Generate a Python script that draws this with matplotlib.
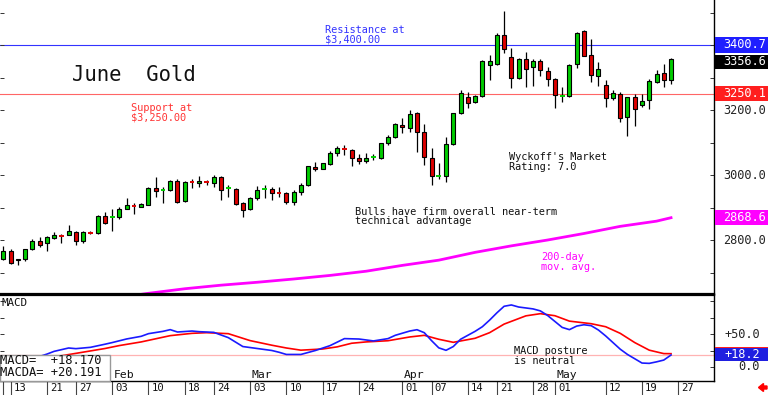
import numpy as np
import matplotlib
matplotlib.use("Agg")
import matplotlib.pyplot as plt
from matplotlib.patches import Rectangle, FancyArrow

# ---------------- data ----------------
opens = [2741, 2767, 2738, 2742, 2771, 2796, 2790, 2806, 2813, 2816,
         2825, 2796, 2825, 2821, 2874, 2869, 2870, 2896, 2908, 2902,
         2909, 2960, 2953, 2954, 2981, 2919, 2979, 2974, 2979, 2975,
         2995, 2958, 2958, 2914, 2894, 2928, 2955, 2956, 2946, 2945,
         2917, 2949, 2968, 3026, 3018, 3034, 3067, 3082, 3077, 3051,
         3044, 3052, 3051, 3097, 3116, 3154, 3144, 3192, 3133, 3051,
         2996, 2997, 3095, 3190, 3241, 3225, 3243, 3338, 3342, 3431,
         3362, 3298, 3356, 3333, 3352, 3320, 3294, 3242, 3243, 3342,
         3443, 3369, 3305, 3277, 3236, 3248, 3178, 3239, 3215, 3231,
         3287, 3313, 3292]
highs = [2782, 2771, 2743, 2773, 2804, 2808, 2812, 2826, 2818, 2845,
         2827, 2827, 2829, 2876, 2885, 2894, 2902, 2930, 2915, 2913,
         2962, 2993, 2962, 2985, 2989, 2981, 2987, 2997, 2985, 3001,
         2997, 2968, 2960, 2918, 2933, 2966, 2968, 2964, 2964, 2949,
         2954, 2976, 3029, 3041, 3038, 3075, 3089, 3092, 3079, 3065,
         3067, 3065, 3099, 3123, 3161, 3174, 3200, 3194, 3157, 3082,
         3036, 3118, 3192, 3262, 3256, 3246, 3354, 3369, 3438, 3505,
         3390, 3359, 3379, 3356, 3356, 3333, 3298, 3272, 3342, 3440,
         3446, 3418, 3349, 3292, 3262, 3256, 3241, 3249, 3248, 3294,
         3323, 3342, 3359]
lows = [2738, 2725, 2724, 2736, 2769, 2778, 2767, 2804, 2792, 2814,
        2784, 2792, 2818, 2818, 2849, 2827, 2866, 2894, 2880, 2901,
        2907, 2931, 2913, 2952, 2915, 2917, 2960, 2964, 2969, 2964,
        2923, 2931, 2908, 2870, 2892, 2923, 2928, 2923, 2932, 2911,
        2908, 2938, 2966, 3011, 3017, 3032, 3058, 3062, 3028, 3034,
        3036, 3046, 3048, 3092, 3114, 3128, 3133, 3072, 3031, 2969,
        2987, 2979, 3092, 3188, 3205, 3222, 3241, 3292, 3338, 3374,
        3267, 3294, 3272, 3274, 3305, 3274, 3205, 3226, 3239, 3328,
        3365, 3287, 3274, 3208, 3231, 3164, 3120, 3151, 3210, 3202,
        3282, 3272, 3280]
closes = [2767, 2728, 2742, 2771, 2796, 2786, 2808, 2814, 2812, 2829,
          2796, 2825, 2823, 2874, 2853, 2871, 2896, 2908, 2906, 2911,
          2960, 2952, 2955, 2982, 2917, 2978, 2977, 2981, 2977, 2995,
          2954, 2959, 2911, 2892, 2929, 2954, 2957, 2946, 2944, 2918,
          2949, 2969, 3027, 3018, 3036, 3069, 3083, 3081, 3051, 3043,
          3051, 3054, 3098, 3118, 3157, 3147, 3188, 3133, 3056, 2997,
          2998, 3095, 3190, 3251, 3222, 3243, 3352, 3352, 3431, 3388,
          3298, 3356, 3326, 3351, 3323, 3295, 3246, 3244, 3338, 3438,
          3366, 3308, 3325, 3236, 3251, 3174, 3239, 3202, 3229, 3289,
          3311, 3292, 3356.6]

# 200-day moving average (trading-day index, value)
ma_idx = [15, 20, 25, 30, 35, 40, 45, 50, 55, 60, 65, 70, 75, 80, 85, 90, 92]
ma_vals = [2620, 2636, 2650, 2661, 2670, 2680, 2691, 2704, 2722, 2738,
           2762, 2782, 2800, 2820, 2842, 2858, 2868.6]

# MACD (blue) and MACD average (red)
macd_idx = [0, 3, 6, 7, 9, 10, 12, 14, 15, 17, 19, 20, 22, 23, 24, 26, 27, 29,
            31, 33, 35, 37, 38, 39, 41, 43, 45, 47, 49, 51, 53, 54, 56, 57, 58,
            59, 60, 61, 62, 63, 65, 66, 67, 68, 69, 70, 71, 73, 74, 75, 77, 78,
            79, 80, 81, 82, 83, 84, 85, 86, 87, 88, 89, 90, 91, 92]
macd_vals = [4, 9, 19.5, 23.7, 28.8, 27.8, 29.8, 34.5, 37, 42.5, 46.5, 50.5,
             54, 56.6, 53, 54.5, 53.5, 52.5, 44.5, 31, 28, 25, 22.3, 19, 19, 25,
             32.3, 43, 42.4, 39.5, 43, 48, 54.5, 56.5, 52, 40, 29, 25.3, 31, 42,
             54, 61, 71, 82, 92, 94, 90.9, 88, 85, 78, 60, 56.6, 62, 64, 62.6,
             56, 47, 37, 27, 19, 12.5, 6, 5.5, 7.8, 10.5, 18.17]
sig_idx = [0, 4, 8, 11, 14, 16, 19, 23, 26, 28, 31, 34, 37, 39, 41, 44, 46, 48,
           50, 53, 56, 58, 60, 62, 65, 67, 69, 72, 74, 76, 78, 81, 83, 85, 87,
           89, 91, 92]
sig_vals = [5, 10, 17, 22.5, 28, 32.5, 38, 47.5, 51, 52, 50.5, 40, 33, 28.8,
            25.5, 27.3, 30.5, 36, 38, 39.8, 45.5, 48, 42, 37.4, 43.5, 52, 65,
            77.5, 80.8, 77.7, 69.5, 65.6, 61, 51, 37, 25.5, 20.3, 20.19]

date_tick_idx = [1, 6, 10, 15, 20, 25, 29, 34, 39, 44, 49, 55, 59, 64, 68, 73,
                 76, 83, 88, 93]
date_tick_lbl = ["13", "21", "27", "03", "10", "18", "24", "03", "10", "17",
                 "24", "01", "07", "14", "21", "28", "01", "12", "19", "27"]
month_idx = [15, 34, 55, 76]
month_lbl = ["Feb", "Mar", "Apr", "May"]

price_axis_labels = [2800, 3000, 3200]
resistance = 3400.7
support = 3250.1
last_close = 3356.6
ma_last = 2868.6
macd_last = 18.170
macda_last = 20.191
macd_axis_labels = [50, 0]

# ---------------- layout ----------------
W, H = 768, 395
MONO = "DejaVu Sans Mono"
plt.rcParams["font.family"] = [MONO, "DejaVu Sans"]

fig = plt.figure(figsize=(W / 100, H / 100), dpi=100)


def fx(px):
    return px / W


def fy(py):
    return 1 - py / H


AX_R = 714
ax = fig.add_axes([0, fy(294), AX_R / W, 294 / H])
axm = fig.add_axes([0, fy(381), AX_R / W, (381 - 295) / H])

XL = (-0.455, 97.92)
P_PER_PX = 3.077
M_PER_PX = 1 / 0.66
ax.set_xlim(*XL)
ax.set_ylim(3538.5 - 294 * P_PER_PX, 3538.5)
axm.set_xlim(*XL)
axm.set_ylim(-(381 - 367) * M_PER_PX, (367 - 295) * M_PER_PX)

for a in (ax, axm):
    a.set_xticks([])
    a.spines["left"].set_visible(False)
    a.spines["right"].set_linewidth(1.0)
    a.tick_params(axis="y", which="both", left=True, right=True,
                  labelleft=False, labelright=False, direction="in",
                  length=3, width=0.7, colors="#333333")
ax.spines["top"].set_visible(False)
ax.spines["bottom"].set_linewidth(1.6)
axm.spines["top"].set_linewidth(1.6)
axm.spines["bottom"].set_linewidth(1.0)
ax.set_yticks(np.arange(2700, 3600, 100))
axm.set_yticks(np.arange(0, 101, 25))

# ---------------- candles ----------------
o = np.array(opens, float)
h = np.array(highs, float)
l = np.array(lows, float)
c = np.array(closes, float)
idx = np.arange(len(o))
up = c >= o
col = np.where(up, "#00cc00", "#dd0000")
doji = np.abs(c - o) < 3
ax.vlines(idx, l, h, color="black", lw=0.9, zorder=3)
nd = ~doji
ax.bar(idx[nd], np.abs(c - o)[nd], bottom=np.minimum(o, c)[nd], width=0.55,
       color=col[nd], edgecolor="black", linewidth=0.8, zorder=4)
ax.hlines(c[doji], idx[doji] - 0.33, idx[doji] + 0.33, colors=col[doji],
          lw=1.4, zorder=5)

# moving average
ax.plot(ma_idx, ma_vals, color="#ff00ff", lw=2.0, zorder=2)

# support / resistance
ax.axhline(resistance, color="#3333ff", lw=0.8, zorder=1)
ax.axhline(support, color="#ff6666", lw=0.8, zorder=1)

# right-side price labels
tr = ax.get_yaxis_transform()
for v in price_axis_labels:
    ax.text(723 / AX_R, v, f"{v:.1f}", transform=tr, ha="left", va="center",
            fontsize=8.6, color="#222222", clip_on=False)


def value_box(a, val, color, ppx, h_px, nudge_px=0.0, txt=None, tcolor="white"):
    trf = a.get_yaxis_transform()
    center = val - nudge_px * ppx
    hh = h_px * ppx
    a.add_patch(Rectangle((715 / AX_R, center - hh / 2), (W - 715) / AX_R, hh,
                          transform=trf, facecolor=color, edgecolor="none",
                          clip_on=False, zorder=6))
    if txt is not None:
        a.text(723 / AX_R, center, txt, transform=trf, ha="left",
               va="center", fontsize=8.6, color=tcolor, clip_on=False,
               zorder=7)


value_box(ax, resistance, "#1f1fff", P_PER_PX, 16, 0, f"{resistance:.1f}")
value_box(ax, last_close, "#000000", P_PER_PX, 14, 2.5, f"{last_close:.1f}")
value_box(ax, support, "#ff1f1f", P_PER_PX, 15, 0, f"{support:.1f}")
value_box(ax, ma_last, "#ff00ff", P_PER_PX, 15, 0, f"{ma_last:.1f}")

# ---------------- MACD panel ----------------
axm.axhline(macd_last, color="#ffb3b3", lw=0.9, zorder=1)
axm.plot(sig_idx, sig_vals, color="#ff0000", lw=1.2, zorder=3)
axm.plot(macd_idx, macd_vals, color="#1a1aff", lw=1.2, zorder=4)

trm = axm.get_yaxis_transform()
for v in macd_axis_labels:
    axm.text(760 / AX_R, v, f"+{v:.1f}" if v > 0 else f"{v:.1f}",
             transform=trm, ha="right", va="center", fontsize=8.6,
             color="#222222", clip_on=False)
value_box(axm, macda_last, "#ff1f1f", M_PER_PX, 13, 0)
value_box(axm, macd_last, "#1f1fe0", M_PER_PX, 13, -0.5)
axm.text(760 / AX_R, macd_last + 0.5 * M_PER_PX, f"+{macd_last:.1f}",
         transform=trm, ha="right", va="center", fontsize=8.6, color="white",
         clip_on=False, zorder=8)

# legend box
axm.add_patch(Rectangle((0, 0), 110 / AX_R, (381 - 355) / 86,
                        transform=axm.transAxes, facecolor="white",
                        edgecolor="#999999", lw=1.0, zorder=10, clip_on=False))
fig.text(fx(0.5), fy(364.5), f"MACD=  +{macd_last:.3f}", fontsize=8.7,
         va="baseline", ha="left", color="#111111", zorder=11)
fig.text(fx(0.5), fy(376.5), f"MACDA= +{macda_last:.3f}", fontsize=8.7,
         va="baseline", ha="left", color="#111111", zorder=11)
fig.text(fx(1.7), fy(305.5), "MACD", fontsize=7.8, va="baseline",
         ha="left", color="#111111")

# date axis row
xtr = axm.get_xaxis_transform()
y_top = -1 / 86
y_bot = -15 / 86
axm.plot([date_tick_idx[0] - 1] * 2, [y_top, y_bot], transform=xtr,
         color="#444444", lw=0.8, clip_on=False)
for i, lbl in zip(date_tick_idx, date_tick_lbl):
    axm.plot([i, i], [y_top, y_bot], transform=xtr, color="#444444", lw=0.8,
             clip_on=False)
    axm.annotate(lbl, xy=(i, y_top), xycoords=xtr, xytext=(3, -9),
                 textcoords="offset pixels", ha="left", va="baseline",
                 fontsize=7.6, color="#111111", annotation_clip=False)
for i, lbl in zip(month_idx, month_lbl):
    axm.annotate(lbl, xy=(i, 0), xycoords=xtr, xytext=(1.5, 3),
                 textcoords="offset pixels", ha="left", va="baseline",
                 fontsize=8.2, color="#111111", annotation_clip=False)

# ---------------- annotations ----------------
def label(px, py_last, s, color, size=7.4):
    # py_last: baseline of the last line (pixels from top)
    fig.text(fx(px), fy(py_last), s, color=color, fontsize=size, ha="left",
             va="baseline", linespacing=0.95)


label(325, 42.3, "Resistance at\n$3,400.00", "#3333ff")
label(131, 120.5, "Support at\n$3,250.00", "#ff3333")
label(509, 170, "Wyckoff's Market\nRating: 7.0", "#111111")
label(355, 224.5, "Bulls have firm overall near-term\ntechnical advantage", "#111111")
label(541, 270, "200-day\nmov. avg.", "#ff00ff")
label(514, 363.5, "MACD posture\nis neutral", "#111111")
fig.text(fx(72.5), fy(81), "June  Gold", fontsize=14.8, color="#111111",
         ha="left", va="baseline")

# little red arrow bottom-right
fig.patches.append(FancyArrow(7.67, 0.075, -0.085, 0, width=0.03,
                              head_width=0.08, head_length=0.05,
                              length_includes_head=True, color="#ff0000",
                              transform=fig.dpi_scale_trans))

fig.savefig("out.png", dpi=100)
